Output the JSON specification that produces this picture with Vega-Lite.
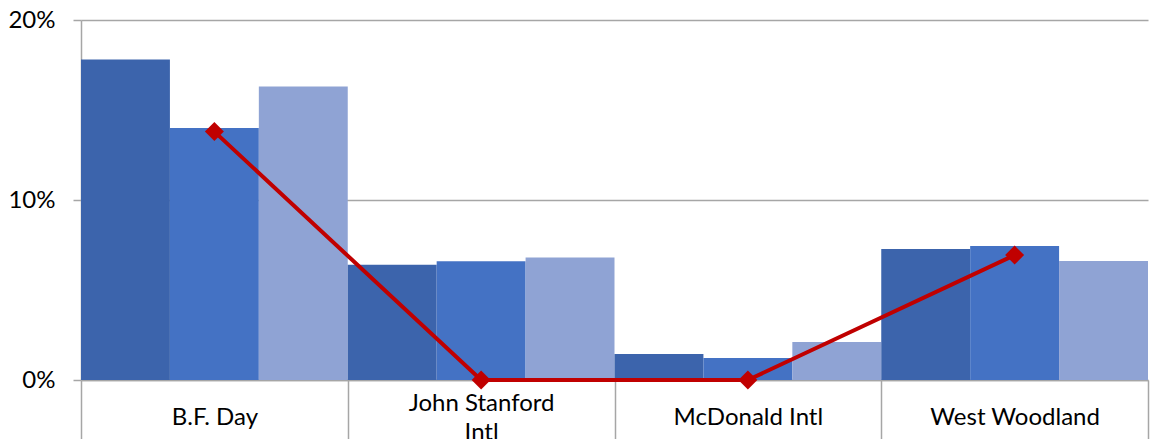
{
  "$schema": "https://vega.github.io/schema/vega-lite/v6.json",
  "width": 1067,
  "height": 360,
  "autosize": {"type": "none"},
  "padding": {"left": 81, "top": 20, "right": 4, "bottom": 59},
  "background": "white",
  "config": {"view": {"stroke": null}, "font": "Lato"},
  "datasets": {
    "bars": [
      {"school": "B.F. Day", "series": "s1", "value": 0.178},
      {"school": "B.F. Day", "series": "s2", "value": 0.140},
      {"school": "B.F. Day", "series": "s3", "value": 0.163},
      {"school": "John Stanford Intl", "series": "s1", "value": 0.064},
      {"school": "John Stanford Intl", "series": "s2", "value": 0.066},
      {"school": "John Stanford Intl", "series": "s3", "value": 0.068},
      {"school": "McDonald Intl", "series": "s1", "value": 0.0144},
      {"school": "McDonald Intl", "series": "s2", "value": 0.0122},
      {"school": "McDonald Intl", "series": "s3", "value": 0.0211},
      {"school": "West Woodland", "series": "s1", "value": 0.0728},
      {"school": "West Woodland", "series": "s2", "value": 0.0744},
      {"school": "West Woodland", "series": "s3", "value": 0.0661}
    ],
    "line": [
      {"school": "B.F. Day", "value": 0.138},
      {"school": "John Stanford Intl", "value": 0.0},
      {"school": "McDonald Intl", "value": 0.0},
      {"school": "West Woodland", "value": 0.0694}
    ]
  },
  "encoding": {
    "x": {
      "field": "school",
      "type": "nominal",
      "sort": ["B.F. Day", "John Stanford Intl", "McDonald Intl", "West Woodland"],
      "scale": {"paddingInner": 0, "paddingOuter": 0},
      "axis": {
        "title": null,
        "labelAngle": 0,
        "tickBand": "extent",
        "tickSize": 59,
        "tickColor": "#A6A6A6",
        "tickWidth": 1.5,
        "domainColor": "#A6A6A6",
        "domainWidth": 1.5,
        "labelPadding": {"condition": {"test": "datum.value == 'John Stanford Intl'", "value": -36}, "value": -22},
        "labelBaseline": "middle",
        "labelFontSize": 24,
        "labelColor": "#000000",
        "labelLineHeight": 29,
        "labelExpr": "datum.label == 'John Stanford Intl' ? ['John Stanford', 'Intl'] : datum.label"
      }
    }
  },
  "layer": [
    {
      "data": {"name": "bars"},
      "mark": {"type": "bar"},
      "encoding": {
        "xOffset": {"field": "series", "type": "nominal", "sort": ["s1", "s2", "s3"], "scale": {"paddingInner": 0, "paddingOuter": 0}},
        "y": {
          "field": "value",
          "type": "quantitative",
          "scale": {"domain": [0, 0.2], "nice": false},
          "axis": {
            "title": null,
            "values": [0, 0.1, 0.2],
            "format": ".0%",
            "tickSize": 8,
            "tickColor": "#A6A6A6",
            "tickWidth": 1.5,
            "domainColor": "#A6A6A6",
            "domainWidth": 1.5,
            "gridColor": "#A6A6A6",
            "gridWidth": 1.5,
            "labelFontSize": 24,
            "labelColor": "#000000",
            "labelPadding": 18
          }
        },
        "color": {
          "field": "series",
          "type": "nominal",
          "scale": {"domain": ["s1", "s2", "s3"], "range": ["#3C64AC", "#4472C4", "#8FA3D4"]},
          "legend": null
        }
      }
    },
    {
      "data": {"name": "line"},
      "mark": {"type": "line", "color": "#C00000", "strokeWidth": 4, "point": {"shape": "diamond", "size": 360, "color": "#C00000", "filled": true}},
      "encoding": {
        "y": {"field": "value", "type": "quantitative"}
      }
    }
  ]
}
